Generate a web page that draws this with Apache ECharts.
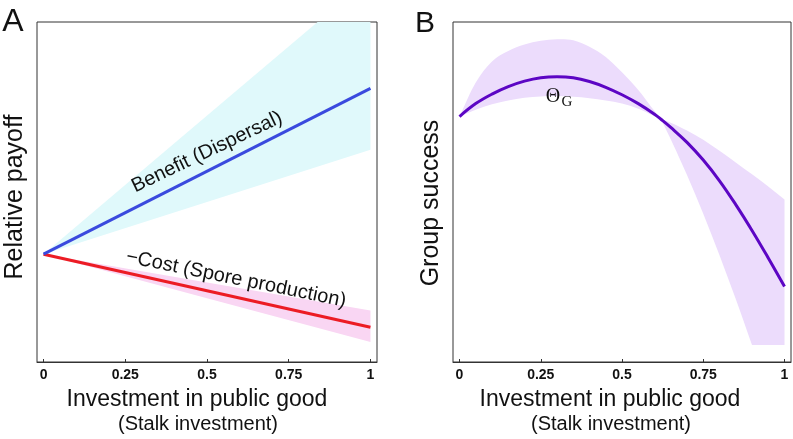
<!DOCTYPE html>
<html>
<head>
<meta charset="utf-8">
<script src="https://cdn.jsdelivr.net/npm/echarts@6/dist/echarts.min.js"></script>
<style>html,body{margin:0;padding:0;background:#fff}#c{width:793px;height:439px}</style>
</head>
<body>
<div id="c"></div>
<script>
// ---- Panel A data (x = investment, y = relative payoff, 0 at no investment) ----
const xA = [0, 1];
const benefit = [0, 1.0];
const benefitLow = [0, 0.63];
const benefitHigh = [0, 1.67];
const cost = [0, -0.44];
const costLow = [0, -0.53];
const costHigh = [0, -0.34];

// ---- Panel B data (x = investment, y = group success, arbitrary units) ----
const xB = [0, 0.05, 0.1, 0.15, 0.2, 0.25, 0.3, 0.35, 0.4, 0.45, 0.5, 0.55, 0.6, 0.62, 0.65, 0.7, 0.75, 0.8, 0.85, 0.9, 0.95, 1];
const success = [0.722, 0.760, 0.788, 0.810, 0.826, 0.836, 0.839, 0.836, 0.825, 0.808, 0.786, 0.760, 0.729, 0.714, 0.690, 0.646, 0.594, 0.533, 0.463, 0.387, 0.306, 0.222];
const successHigh = [0.722, 0.822, 0.884, 0.915, 0.934, 0.945, 0.949, 0.946, 0.927, 0.897, 0.852, 0.800, 0.738, 0.714, 0.704, 0.681, 0.654, 0.621, 0.587, 0.552, 0.516, 0.478];
const successLow = [0.722, 0.742, 0.758, 0.769, 0.777, 0.781, 0.782, 0.780, 0.776, 0.769, 0.760, 0.745, 0.723, 0.714, 0.655, 0.550, 0.436, 0.314, 0.185, 0.050, 0.050, 0.050];

const tickValues = [0, 0.25, 0.5, 0.75, 1];

const zip = (xs, ys) => xs.map((x, i) => [x, ys[i]]);
const FONT = '"Liberation Sans", Arial, sans-serif';

function xAxisCfg(gi) {
  return {
    type: 'value', gridIndex: gi, min: -0.02, max: 1.02,
    axisLine: { show: true, onZero: false, lineStyle: { color: '#333', width: 1 } },
    axisTick: { show: true, inside: true, length: 3, customValues: tickValues, lineStyle: { color: '#333' } },
    axisLabel: { show: true, customValues: tickValues, margin: 6, color: '#111',
      fontFamily: FONT, fontWeight: 'bold', fontSize: 14 },
    splitLine: { show: false }
  };
}
function yAxisCfg(gi, min, max) {
  return {
    type: 'value', gridIndex: gi, min: min, max: max,
    axisLine: { show: false }, axisTick: { show: false }, axisLabel: { show: false },
    splitLine: { show: false }
  };
}

// cubic segments through pixel points (Catmull-Rom), with optional break indices (kinks)
function curveCmds(pts, breaks) {
  const n = pts.length;
  const tan = (i, side) => {
    if (i === 0) return [pts[1][0] - pts[0][0], pts[1][1] - pts[0][1]];
    if (i === n - 1) return [pts[n - 1][0] - pts[n - 2][0], pts[n - 1][1] - pts[n - 2][1]];
    if (breaks.indexOf(i) >= 0) {
      return side === 'out'
        ? [pts[i + 1][0] - pts[i][0], pts[i + 1][1] - pts[i][1]]
        : [pts[i][0] - pts[i - 1][0], pts[i][1] - pts[i - 1][1]];
    }
    return [(pts[i + 1][0] - pts[i - 1][0]) / 2, (pts[i + 1][1] - pts[i - 1][1]) / 2];
  };
  let s = '';
  for (let i = 0; i < n - 1; i++) {
    const t0 = tan(i, 'out'), t1 = tan(i + 1, 'in');
    const c1 = [pts[i][0] + t0[0] / 3, pts[i][1] + t0[1] / 3];
    const c2 = [pts[i + 1][0] - t1[0] / 3, pts[i + 1][1] - t1[1] / 3];
    s += ' C' + c1[0] + ' ' + c1[1] + ' ' + c2[0] + ' ' + c2[1] + ' ' + pts[i + 1][0] + ' ' + pts[i + 1][1];
  }
  return s;
}

function band(gi, xs, lo, hi, color, hiBreaks, loBreaks) {
  return {
    type: 'custom', coordinateSystem: 'cartesian2d', xAxisIndex: gi, yAxisIndex: gi,
    data: [[xs[0], lo[0]]], silent: true, z: 1, clip: true,
    renderItem: function (params, api) {
      const up = xs.map((x, i) => api.coord([x, hi[i]]));
      const dn = xs.map((x, i) => api.coord([x, lo[i]])).reverse();
      const n = xs.length;
      const dnBreaks = loBreaks.map(b => n - 1 - b);
      let d = 'M' + up[0][0] + ' ' + up[0][1] + curveCmds(up, hiBreaks);
      d += ' L' + dn[0][0] + ' ' + dn[0][1] + curveCmds(dn, dnBreaks) + ' Z';
      const cs = params.coordSys;
      return {
        type: 'group',
        clipPath: { type: 'rect', shape: { x: cs.x, y: cs.y, width: cs.width, height: cs.height } },
        children: [{ type: 'path', shape: { pathData: d }, style: { fill: color } }]
      };
    }
  };
}

function line(gi, xs, ys, color, smooth) {
  return { type: 'line', xAxisIndex: gi, yAxisIndex: gi, data: zip(xs, ys), symbol: 'none',
    smooth: smooth, lineStyle: { color: color, width: 3 }, silent: true, z: 3 };
}

function txt(x, y, text, font, rot) {
  return { type: 'text', x: x, y: y, rotation: rot || 0, z: 100, silent: true,
    style: { text: text, font: font, fill: '#111', align: 'center', verticalAlign: 'middle' } };
}
const SERIF = '"Liberation Serif", "DejaVu Serif", serif';

const chart = echarts.init(document.getElementById('c'), null, { renderer: 'canvas' });
chart.setOption({
  animation: false,
  backgroundColor: '#fff',
  grid: [
    { left: 37, top: 22, width: 340, height: 340, show: true, borderColor: '#333', borderWidth: 1, backgroundColor: 'transparent' },
    { left: 453, top: 22, width: 338, height: 340, show: true, borderColor: '#333', borderWidth: 1, backgroundColor: 'transparent' }
  ],
  xAxis: [xAxisCfg(0), xAxisCfg(1)],
  yAxis: [yAxisCfg(0, -0.65, 1.4), yAxisCfg(1, 0, 1)],
  series: [
    band(0, xA, benefitLow, benefitHigh, '#e0f9fb', [], []),
    band(0, xA, costLow, costHigh, '#f9d6f3', [], []),
    band(1, xB, successLow, successHigh, '#ecdcfc', [13], [13, 19]),
    line(0, xA, cost, '#ec1c24', false),
    line(0, xA, benefit, '#3a4ade', false),
    line(1, xB, success, '#5c06c4', 0.4)
  ],
  graphic: [
    txt(13, 22, 'A', '32px ' + FONT),
    txt(425, 23.5, 'B', '30px ' + FONT),
    txt(15, 197, 'Relative payoff', '25px ' + FONT, Math.PI / 2),
    txt(431, 203, 'Group success', '25px ' + FONT, Math.PI / 2),
    txt(197, 400, 'Investment in public good', '23px ' + FONT),
    txt(198, 424, '(Stalk investment)', '20px ' + FONT),
    txt(610, 400, 'Investment in public good', '23px ' + FONT),
    txt(611, 424, '(Stalk investment)', '20px ' + FONT),
    txt(207, 152, 'Benefit (Dispersal)', '20px ' + FONT, 25.5 * Math.PI / 180),
    txt(236, 279, '\u2212Cost (Spore production)', '20px ' + FONT, -11.5 * Math.PI / 180),
    txt(553, 97, '\u0398', '20px ' + SERIF),
    txt(567, 102, 'G', '15px ' + SERIF)
  ]
});
</script>
</body>
</html>
